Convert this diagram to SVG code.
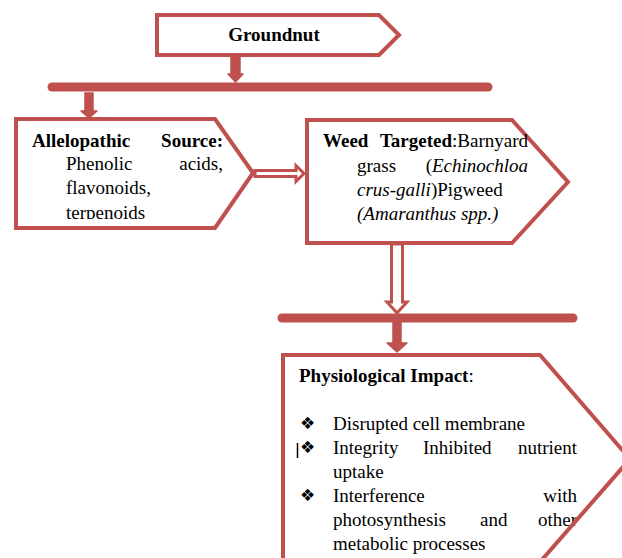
<svg xmlns="http://www.w3.org/2000/svg" width="622" height="558" viewBox="0 0 622 558">
<style>
.box{fill:#fff;stroke:#C0504D;stroke-width:4;stroke-linejoin:miter}
.outline{fill:none;stroke:#C0504D;stroke-width:4}
.bar{stroke:#C0504D;stroke-width:9;stroke-linecap:round}
.blk{fill:#C0504D;stroke:#C0504D;stroke-width:1.5;stroke-linejoin:round}
.hol{fill:#fff;stroke:#C0504D;stroke-width:3;stroke-linejoin:miter}
text{font-family:"Liberation Serif","Times New Roman",serif;font-size:19px;fill:#000}
.b{font-weight:bold}
.i{font-style:italic}
.bul{font-family:"DejaVu Sans",sans-serif;font-size:17px}
</style>
<defs>
<clipPath id="clipA"><rect x="16" y="119" width="240" height="100"/></clipPath>
</defs>
<rect width="622" height="558" fill="#fff"/>

<g id="groundnut">
<polygon class="box" points="157,15 379,15 399,35 379,55 157,55"/>
<text class="b" x="274" y="41" text-anchor="middle">Groundnut</text>
</g>

<g id="allelopathic">
<polygon class="box" points="16,119 215,119 253,173 215,228 16,228"/>
<g clip-path="url(#clipA)">
<text class="b" x="32" y="147">Allelopathic</text>
<text class="b" x="223" y="147" text-anchor="end">Source:</text>
<text x="66" y="170">Phenolic</text>
<text x="223" y="170" text-anchor="end">acids,</text>
<text x="66" y="194">flavonoids,</text>
<text x="66" y="218.5">terpenoids</text>
</g>
</g>

<g id="weed">
<polygon class="box" points="307,120 512,120 568,182 512,243 307,243"/>
<text class="b" x="323" y="147">Weed</text>
<text x="528" y="147" text-anchor="end"><tspan class="b">Targeted</tspan>:Barnyard</text>
<text x="357" y="172">grass</text>
<text x="528" y="172" text-anchor="end">(<tspan class="i">Echinochloa</tspan></text>
<text x="357" y="196"><tspan class="i">crus-galli</tspan>)Pigweed</text>
<text class="i" x="357" y="220">(Amaranthus spp.)</text>
</g>

<g id="physiological">
<polygon points="283,355 540,355 630,459 540,562 283,562" fill="#fff"/>
<text x="299" y="382"><tspan class="b">Physiological Impact</tspan>:</text>
<text class="bul" x="300" y="429">❖</text>
<text x="333" y="430">Disrupted cell membrane</text>
<line x1="297.5" y1="443" x2="297.5" y2="458" stroke="#000" stroke-width="1.5"/>
<text class="bul" x="300" y="453">❖</text>
<text x="333" y="454">Integrity</text>
<text x="423" y="454">Inhibited</text>
<text x="577" y="454" text-anchor="end">nutrient</text>
<text x="333" y="478">uptake</text>
<text class="bul" x="300" y="501">❖</text>
<text x="333" y="502">Interference</text>
<text x="577" y="502" text-anchor="end">with</text>
<text x="333" y="526">photosynthesis</text>
<text x="480" y="526">and</text>
<text x="577" y="526" text-anchor="end">other</text>
<text x="333" y="550">metabolic processes</text>
<polygon class="outline" points="283,355 540,355 630,459 540,562 283,562"/>
</g>

<g id="connectors">
<polygon class="blk" points="231,55 240,55 240,74 243,74 235.5,82 228,74 231,74"/>
<line class="bar" x1="52" y1="87" x2="488" y2="87"/>
<polygon class="blk" points="85,93 93,93 93,111 97,111 89,118 81,111 85,111"/>
<polygon class="hol" points="255,170.5 296,170.5 296,165.5 304,173.5 296,181.5 296,176.5 255,176.5"/>
<polygon class="hol" points="391.5,244 402.5,244 402.5,302 407,302 397,313 387,302 391.5,302"/>
<line class="bar" x1="282" y1="318" x2="573" y2="318"/>
<polygon class="blk" points="393,322 401,322 401,343 407,343 397,352 387,343 393,343"/>
</g>
</svg>
